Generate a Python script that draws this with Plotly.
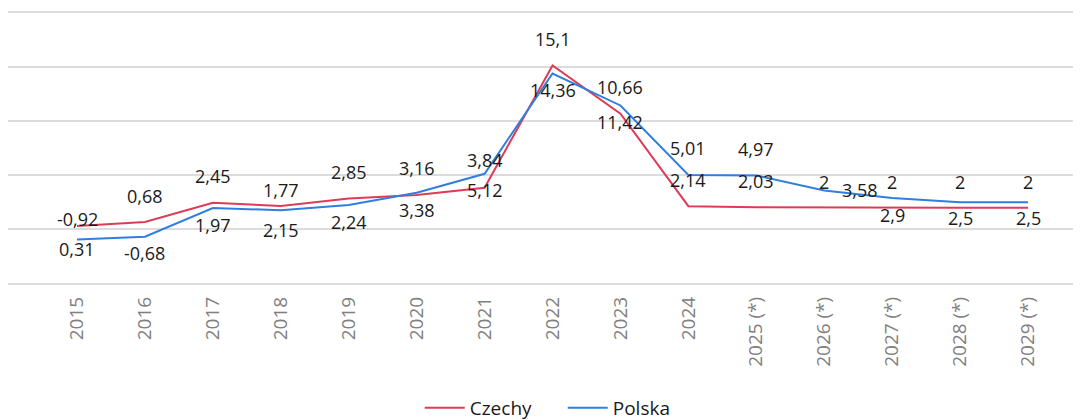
import plotly.graph_objects as go

years = ["2015", "2016", "2017", "2018", "2019", "2020", "2021", "2022", "2023",
         "2024", "2025 (*)", "2026 (*)", "2027 (*)", "2028 (*)", "2029 (*)"]
czechy = [0.31, 0.68, 2.45, 2.15, 2.85, 3.16, 3.84, 15.1, 10.66, 2.14, 2.03, 2, 2, 2, 2]
polska = [-0.92, -0.68, 1.97, 1.77, 2.24, 3.38, 5.12, 14.36, 11.42, 5.01, 4.97, 3.58, 2.9, 2.5, 2.5]

# label offsets in pixels (style only)
cz_yshift = [-23, 26, 27, -24, 26, 27, 28, 27, 27, 26, 26, 26, 26, 26, 26]
pl_yshift = [20, -16, -17, 20, -17, -17, -16, -16, -17, 27, 26, 1, -17, -16, -16]
pl_xshift = [0, 0, 0, 0, 0, 0, 0, 0, 0, 0, 0, 36, 0, 0, 0]

RED = "#DD3C57"
BLUE = "#2E7FE0"
FONT = "Open Sans"
LABEL_FONT = dict(family=FONT, size=18, color="#1a1a1a")


def fmt(v):
    return f"{v:g}".replace(".", ",")


fig = go.Figure()
fig.add_trace(go.Scatter(x=years, y=czechy, name="Czechy", mode="lines",
                         line=dict(color=RED, width=2)))
fig.add_trace(go.Scatter(x=years, y=polska, name="Polska", mode="lines",
                         line=dict(color=BLUE, width=2)))

annotations = []
for i, yr in enumerate(years):
    annotations.append(dict(x=i, y=czechy[i], text=fmt(czechy[i]), showarrow=False,
                            yshift=cz_yshift[i], xref="x", yref="y", font=LABEL_FONT))
    annotations.append(dict(x=i, y=polska[i], text=fmt(polska[i]), showarrow=False,
                            yshift=pl_yshift[i], xshift=pl_xshift[i], xref="x", yref="y",
                            font=LABEL_FONT))

fig.update_layout(
    width=1073, height=412,
    margin=dict(l=0, r=0, t=0, b=132, autoexpand=False),
    paper_bgcolor="white", plot_bgcolor="white",
    font=dict(family=FONT, size=16, color="#333333"),
    showlegend=True,
    legend=dict(orientation="h", x=0.517, xanchor="center",
                y=-0.4286, yanchor="middle", itemwidth=40,
                entrywidth=88, entrywidthmode="pixels",
                font=dict(family=FONT, size=19, color="#1a1a1a")),
    annotations=annotations,
)
fig.update_xaxes(type="category", range=[-1.016, 14.78], showgrid=False, zeroline=False,
                 showline=False, ticks="", tickangle=-90, automargin=False,
                 ticklabelstandoff=4,
                 tickfont=dict(family=FONT, size=19, color="#808080"))
fig.update_yaxes(range=[-5.4, 20.4], dtick=5, showgrid=True, gridcolor="#dcdcdc", gridwidth=1.5,
                 zeroline=False, showticklabels=False, showline=False, ticks="", automargin=False)

fig.write_html("out.html")
